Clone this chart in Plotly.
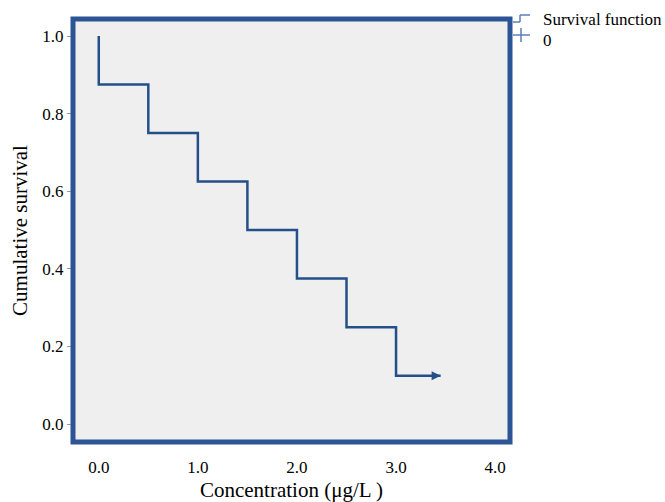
import plotly.graph_objects as go

# Data: Kaplan-Meier style survival steps
conc = [0.0, 0.0, 0.5, 1.0, 1.5, 2.0, 2.5, 3.0, 3.45]
surv = [1.0, 0.875, 0.75, 0.625, 0.5, 0.375, 0.25, 0.125, 0.125]
censor_x = [3.45]
censor_y = [0.125]
x_ticks = [0.0, 1.0, 2.0, 3.0, 4.0]
x_labels = ["0.0", "1.0", "2.0", "3.0", "4.0"]
y_ticks = [0.0, 0.2, 0.4, 0.6, 0.8, 1.0]
y_labels = ["0.0", "0.2", "0.4", "0.6", "0.8", "1.0"]
legend_labels = ["Survival function", "0"]

LINE = "#24508a"
FRAME = "#2d5595"
FONT = "Liberation Serif"

fig = go.Figure()
fig.add_trace(go.Scatter(x=conc, y=surv, mode="lines", line=dict(color=LINE, width=2.5, shape="hv"),
                         showlegend=False, hoverinfo="skip"))
fig.add_trace(go.Scatter(x=censor_x, y=censor_y, mode="markers",
                         marker=dict(symbol="arrow-right", size=9, color=LINE, line=dict(width=0)),
                         showlegend=False, hoverinfo="skip"))

W, H = 665, 502
L, R, T, B = 73, 155, 19, 60
pw, ph = W - L - R, H - T - B

def px(p):
    return (p - L) / pw

def py(p):
    return (H - B - p) / ph

shapes = []
# frame
shapes.append(dict(type="rect", xref="paper", yref="paper", x0=0, x1=1, y0=0, y1=1,
                   line=dict(color=FRAME, width=5), layer="above"))
# legend icons
icon_col = "#5a7fb8"
for (a, b, c, d) in [(513, 22, 520, 22), (520, 22, 520, 15), (520, 15, 530, 15),
                     (513, 35, 530, 35), (521, 28, 521, 42)]:
    shapes.append(dict(type="line", xref="paper", yref="paper", x0=px(a), y0=py(b), x1=px(c), y1=py(d),
                       line=dict(color=icon_col, width=1.5)))

annotations = [
    dict(x=px(541), y=py(19), xref="paper", yref="paper", text=legend_labels[0], showarrow=False,
         xanchor="left", yanchor="middle", font=dict(family=FONT, size=17, color="black")),
    dict(x=px(541), y=py(41), xref="paper", yref="paper", text=legend_labels[1], showarrow=False,
         xanchor="left", yanchor="middle", font=dict(family=FONT, size=17, color="black")),
]

fig.update_layout(
    width=W, height=H, margin=dict(l=L, r=R, t=T, b=B),
    paper_bgcolor="white", plot_bgcolor="#efefef",
    font=dict(family=FONT, size=17, color="black"),
    shapes=shapes, annotations=annotations,
    xaxis=dict(range=[-0.26, 4.15], tickvals=x_ticks, ticktext=x_labels, showgrid=False, zeroline=False,
               automargin=False,
               ticks="outside", ticklen=10, tickcolor="rgba(0,0,0,0)", tickfont=dict(family=FONT, size=17),
               title=dict(text="Concentration (μg/L )", font=dict(family=FONT, size=21), standoff=6)),
    yaxis=dict(range=[-0.046, 1.044], tickvals=y_ticks, ticktext=y_labels, showgrid=False, zeroline=False,
               automargin=False,
               ticks="outside", ticklen=5, tickcolor="#999", tickfont=dict(family=FONT, size=17),
               title=dict(text="Cumulative survival", font=dict(family=FONT, size=21), standoff=8)),
)

fig.write_html("out.html")
